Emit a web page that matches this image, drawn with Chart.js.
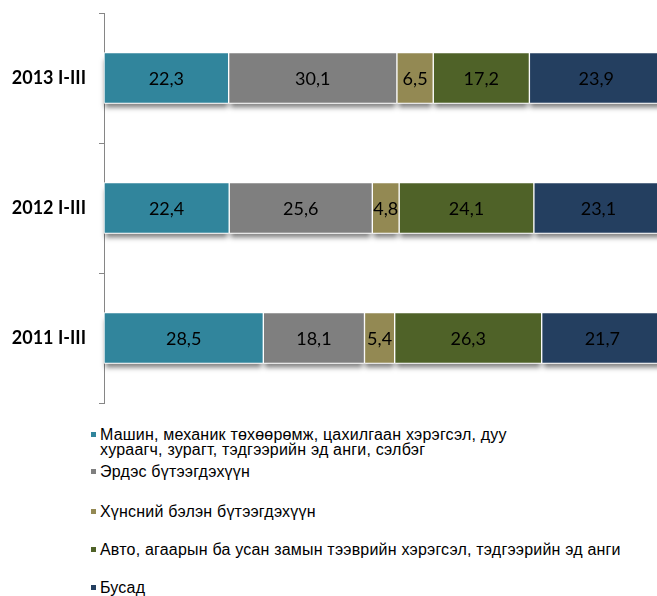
<!DOCTYPE html>
<html>
<head>
<meta charset="utf-8">
<script src="https://cdn.jsdelivr.net/npm/chart.js@4/dist/chart.umd.min.js"></script>
<style>
  body { margin: 0; width: 657px; height: 596px; overflow: hidden; position: relative; background: #fff; }
  #chart { position: absolute; left: 0; top: 0; }
  #legend { position: absolute; left: 91px; top: 427px; font-family: "Liberation Sans", Arial, sans-serif; font-size: 16px; letter-spacing: 0.2px; color: #000; }
  .item { position: relative; padding-left: 9px; line-height: 15px; white-space: pre-line; }
  .box { position: absolute; left: 0; top: 5px; width: 5px; height: 5px; }
</style>
</head>
<body>
<canvas id="chart" width="665" height="405"></canvas>
<div id="legend"></div>
<script>
// 데이터
var categories = ['2013 I-III', '2012 I-III', '2011 I-III'];
var seriesNames = [
	'Машин, механик төхөөрөмж, цахилгаан хэрэгсэл, дуу\nхураагч, зурагт, тэдгээрийн эд анги, сэлбэг',
	'Эрдэс бүтээгдэхүүн',
	'Хүнсний бэлэн бүтээгдэхүүн',
	'Авто, агаарын ба усан замын тээврийн хэрэгсэл, тэдгээрийн эд анги',
	'Бусад'
];
var machine = [22.3, 22.4, 28.5];
var mineral = [30.1, 25.6, 18.1];
var food = [6.5, 4.8, 5.4];
var transport = [17.2, 24.1, 26.3];
var other = [23.9, 23.1, 21.7];

var colors = ['#31859C', '#7F7F7F', '#938953', '#4F6228', '#243F60'];
var values = [machine, mineral, food, transport, other];

var datasets = [];
for (var i = 0; i < values.length; i++) {
	datasets.push({
		label: seriesNames[i],
		data: values[i],
		backgroundColor: colors[i],
		borderColor: '#ffffff',
		borderWidth: 1,
		borderSkipped: false,
		barThickness: 51
	});
}

// 막대 그림자
var shadowPlugin = {
	id: 'barShadow',
	beforeDatasetsDraw: function(chart) {
		var ctx = chart.ctx;
		ctx.save();
		ctx.shadowColor = 'rgba(0,0,0,0.5)';
		ctx.shadowBlur = 5;
		ctx.shadowOffsetY = 4;
		ctx.fillStyle = '#ffffff';
		chart.data.datasets.forEach(function(ds, di) {
			chart.getDatasetMeta(di).data.forEach(function(el) {
				var p = el.getProps(['x', 'y', 'base', 'height'], true);
				var l = Math.min(p.x, p.base), r = Math.max(p.x, p.base);
				ctx.fillRect(l + 1, p.y - p.height / 2 + 2, r - l - 2, p.height - 2);
			});
		});
		ctx.restore();
	}
};

// 값 라벨
var labelPlugin = {
	id: 'valueLabels',
	afterDatasetsDraw: function(chart) {
		var ctx = chart.ctx;
		ctx.save();
		ctx.font = '18px Lato, "Open Sans", sans-serif';
		ctx.fillStyle = '#000';
		ctx.textAlign = 'center';
		ctx.textBaseline = 'middle';
		chart.data.datasets.forEach(function(ds, di) {
			chart.getDatasetMeta(di).data.forEach(function(el, j) {
				var p = el.getProps(['x', 'y', 'base'], true);
				ctx.fillText(ds.data[j].toFixed(1).replace('.', ','), (p.x + p.base) / 2, p.y + 1);
			});
		});
		ctx.restore();
	}
};

var chart = new Chart(document.getElementById('chart'), {
	type: 'bar',
	data: { labels: categories, datasets: datasets },
	options: {
		indexAxis: 'y',
		responsive: false,
		animation: false,
		devicePixelRatio: 1,
		layout: { padding: { top: 13, bottom: 2, right: 2, left: 0 } },
		plugins: { legend: { display: false }, tooltip: { enabled: false } },
		scales: {
			x: { stacked: true, min: 0, max: 100, display: false },
			y: {
				stacked: true,
				offset: true,
				afterFit: function(scale) {
					scale.width = 104;
					scale.paddingTop = 0;
					scale.paddingBottom = 0;
				},
				grid: { offset: true, drawOnChartArea: false, drawTicks: true, tickLength: 5, color: '#868686' },
				border: { display: true, color: '#868686', width: 1 },
				ticks: { color: '#000', padding: 13, font: { family: 'Lato, "Open Sans", sans-serif', size: 18, weight: 'bold' } }
			}
		}
	},
	plugins: [shadowPlugin, labelPlugin]
});

// 범례
var gaps = [0, 7, 25, 23, 23];
var legend = document.getElementById('legend');
for (var k = 0; k < seriesNames.length; k++) {
	var item = document.createElement('div');
	item.className = 'item';
	item.style.marginTop = gaps[k] + 'px';
	var box = document.createElement('span');
	box.className = 'box';
	box.style.background = colors[k];
	item.appendChild(box);
	item.appendChild(document.createTextNode(seriesNames[k]));
	legend.appendChild(item);
}
</script>
</body>
</html>
